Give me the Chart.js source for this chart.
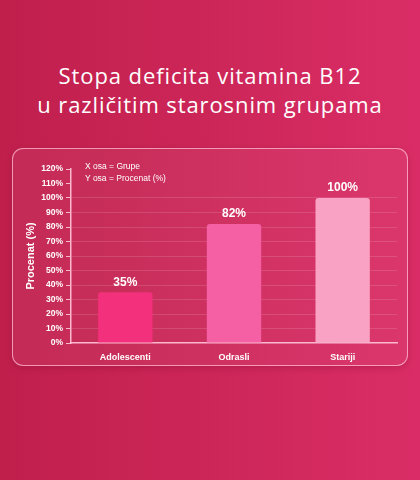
<!DOCTYPE html>
<html>
<head>
<meta charset="utf-8">
<script src="https://cdn.jsdelivr.net/npm/chart.js@4"></script>
<style>
  html, body { margin: 0; padding: 0; }
  body {
    width: 420px; height: 480px; overflow: hidden; position: relative;
    background: linear-gradient(90deg, #c01f4c 0%, #cc2658 50%, #da2d67 100%);
    font-family: "Open Sans", sans-serif;
  }
  .title {
    position: absolute; left: 0; top: 61px; width: 420px;
    text-align: center; color: #fff; font-size: 22px; line-height: 29px; letter-spacing: 0.9px;
  }
  .panel {
    position: absolute; left: 12px; top: 148px; width: 394px; height: 216px;
    border: 1.5px solid rgba(255, 190, 215, 0.75); border-radius: 11px;
    background: rgba(255, 255, 255, 0.05);
    box-shadow: 0 2px 6px rgba(120, 0, 40, 0.25);
  }
  .note {
    position: absolute; left: 72px; top: 11px; color: #fff;
    font-family: "Liberation Sans", Arial, sans-serif; font-size: 8.5px; line-height: 12px;
  }
  canvas { position: absolute; left: 0; top: 0; }
</style>
</head>
<body>
<div class="title">Stopa deficita vitamina B12<br>u različitim starosnim grupama</div>
<div class="panel">
  <canvas id="chart" width="394" height="216"></canvas>
  <div class="note">X osa = Grupe<br>Y osa = Procenat (%)</div>
</div>
<script>
// Kategorije i vrijednosti
var grupe = ['Adolescenti', 'Odrasli', 'Stariji'];
var procenat = [35, 82, 100];
var boje = ['#f3307b', '#f560a4', '#f9a2c3'];
var yTicks = [0, 10, 20, 30, 40, 50, 60, 70, 80, 90, 100, 110, 120];

document.addEventListener('DOMContentLoaded', function () {
    var ctx = document.getElementById('chart').getContext('2d');

    // natpisi iznad stubaca
    var valueLabels = {
        id: 'valueLabels',
        afterDatasetsDraw: function (chart) {
            var c = chart.ctx;
            var meta = chart.getDatasetMeta(0);
            c.save();
            c.fillStyle = '#ffffff';
            c.font = 'bold 12px "Liberation Sans", Arial, sans-serif';
            c.textAlign = 'center';
            c.textBaseline = 'bottom';
            meta.data.forEach(function (bar, i) {
                c.fillText(procenat[i] + '%', bar.x, bar.y - 4);
            });
            c.restore();
        }
    };

    new Chart(ctx, {
        type: 'bar',
        data: {
            labels: grupe,
            datasets: [{
                data: procenat,
                backgroundColor: boje,
                borderRadius: { topLeft: 3, topRight: 3 },
                borderSkipped: 'bottom',
                barPercentage: 0.5,
                categoryPercentage: 1
            }]
        },
        options: {
            responsive: false,
            animation: false,
            layout: { padding: { top: 20, right: 10, bottom: 0, left: 0 } },
            plugins: {
                legend: { display: false },
                tooltip: { enabled: false }
            },
            scales: {
                x: {
                    grid: { display: false },
                    border: { color: 'rgba(255,200,220,0.9)', width: 1.5 },
                    ticks: {
                        color: '#ffffff',
                        padding: 1,
                        font: { family: '"Liberation Sans", Arial, sans-serif', size: 9, weight: 'bold' }
                    },
                    afterFit: function (s) { s.height = 22; }
                },
                y: {
                    min: 0,
                    max: 120,
                    afterBuildTicks: function (s) {
                        s.ticks = yTicks.map(function (v) { return { value: v }; });
                    },
                    grid: {
                        color: function (c) {
                            return c.tick && c.tick.value > 0 && c.tick.value <= 100 ? 'rgba(255,255,255,0.13)' : 'rgba(0,0,0,0)';
                        },
                        tickColor: 'rgba(255,200,220,0.9)',
                        tickLength: 5
                    },
                    border: { color: 'rgba(255,200,220,0.9)', width: 1.5 },
                    ticks: {
                        color: '#ffffff',
                        padding: 3,
                        font: { family: '"Liberation Sans", Arial, sans-serif', size: 8.5, weight: 'bold' },
                        callback: function (v) { return v + '%'; }
                    },
                    title: {
                        display: true,
                        text: 'Procenat (%)',
                        color: '#ffffff',
                        padding: { top: 11, bottom: 0 },
                        font: { family: '"Liberation Sans", Arial, sans-serif', size: 11, weight: 'bold' }
                    },
                    afterFit: function (s) { s.width = 58; }
                }
            }
        },
        plugins: [valueLabels]
    });
});
</script>
</body>
</html>
